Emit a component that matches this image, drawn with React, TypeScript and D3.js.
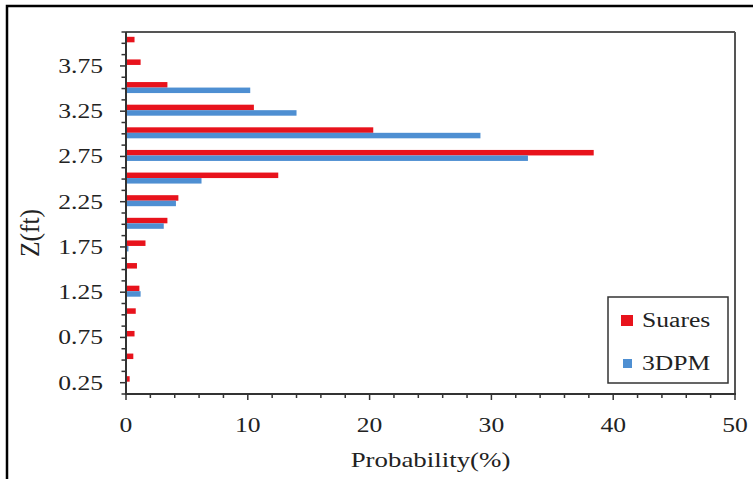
import React from "react";
import * as d3 from "d3";

const zValues = [0.25, 0.5, 0.75, 1.0, 1.25, 1.5, 1.75, 2.0, 2.25, 2.5, 2.75, 3.0, 3.25, 3.5, 3.75, 4.0];
const suares = [0.3, 0.6, 0.7, 0.8, 1.1, 0.9, 1.6, 3.4, 4.3, 12.5, 38.4, 20.3, 10.5, 3.4, 1.2, 0.7];
const dpm = [0, 0, 0, 0, 1.2, 0, 0.2, 3.1, 4.1, 6.2, 33.0, 29.1, 14.0, 10.2, 0, 0];
const xTickLabels = [0, 10, 20, 30, 40, 50];
const yTickLabels = [0.25, 0.75, 1.25, 1.75, 2.25, 2.75, 3.25, 3.75];
const seriesNames = ["Suares", "3DPM"];

const RED = "#e8131c";
const BLUE = "#4e8fd2";
const FONT = "Times New Roman, Liberation Serif, Tinos, Times, serif";
const SX = 1.28;

const L = 126, R = 735, T = 32, B = 394;

function SText({ x, y, size, anchor = "start", children, fill = "#222" }: any) {
  return (
    <text
      transform={`translate(${x},${y}) scale(${SX},1)`}
      fontFamily={FONT}
      fontSize={size}
      textAnchor={anchor}
      fill={fill}
    >
      {children}
    </text>
  );
}

export default function App() {
  const x = d3.scaleLinear().domain([0, 50]).range([L, R]);
  const y = d3.scaleLinear().domain([0.125, 4.125]).range([B, T]);
  const xMinor = d3.range(0, 50.001, 2);
  const yMinor = d3.range(0.125, 4.126, 0.125);
  const barH = 5.5;

  return (
    <svg width={753} height={479} style={{ position: "absolute", left: 0, top: 0, background: "#fff" }}>
      <rect x={0} y={0} width={753} height={479} fill="#fff" />
      {/* outer frame */}
      <rect x={7} y={6} width={760} height={490} fill="none" stroke="#000" strokeWidth={2.5} />

      {/* bars */}
      {zValues.map((z, i) => (
        <g key={i}>
          {suares[i] > 0 && (
            <rect x={x(0)} y={y(z) - 6.5} width={x(suares[i]) - x(0)} height={barH} fill={RED} />
          )}
          {dpm[i] > 0 && (
            <rect x={x(0)} y={y(z) - 1} width={x(dpm[i]) - x(0)} height={barH} fill={BLUE} />
          )}
        </g>
      ))}

      {/* plot box */}
      <line x1={L} x2={R} y1={T} y2={T} stroke="#555" strokeWidth={2} />
      <line x1={R} x2={R} y1={T} y2={B} stroke="#555" strokeWidth={2} />
      <line x1={L} x2={L} y1={T} y2={B + 1} stroke="#333" strokeWidth={2} />
      <line x1={L - 1} x2={R + 1} y1={B} y2={B} stroke="#333" strokeWidth={2} />

      {/* x ticks */}
      {xMinor.map((v) => (
        <line key={"xt" + v} x1={x(v)} x2={x(v)} y1={B} y2={B + (v % 10 === 0 ? 6 : 4)} stroke="#333" strokeWidth={1.5} />
      ))}
      {xTickLabels.map((v) => (
        <SText key={"xl" + v} x={x(v)} y={432} size={20} anchor="middle">{v}</SText>
      ))}

      {/* y ticks */}
      {yMinor.map((v) => (
        <line key={"yt" + v} x1={L - (yTickLabels.some((t) => Math.abs(t - v) < 1e-6) ? 6 : 4.5)} x2={L} y1={y(v)} y2={y(v)} stroke="#333" strokeWidth={1.5} />
      ))}
      {yTickLabels.map((v) => (
        <SText key={"yl" + v} x={103} y={y(v) + 7} size={20} anchor="end">{v.toFixed(2)}</SText>
      ))}

      {/* axis titles */}
      <SText x={(L + R) / 2} y={467} size={21} anchor="middle">Probability(%)</SText>
      <text
        transform={`translate(39,233) rotate(-90) scale(1,${SX})`}
        fontFamily={FONT}
        fontSize={21}
        textAnchor="middle"
        fill="#222"
        textLength={48}
        lengthAdjust="spacingAndGlyphs"
      >
        Z(ft)
      </text>

      {/* legend */}
      <rect x={608} y={297} width={120} height={86} fill="#fff" stroke="#333" strokeWidth={1.5} />
      <rect x={621} y={315} width={12} height={11} fill={RED} />
      <SText x={642} y={327} size={20}>{seriesNames[0]}</SText>
      <rect x={623} y={359} width={9} height={9} fill={BLUE} />
      <SText x={642} y={370} size={20}>{seriesNames[1]}</SText>
    </svg>
  );
}
